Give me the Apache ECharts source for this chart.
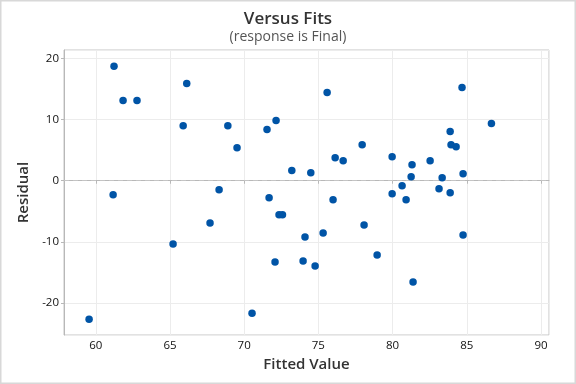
<!DOCTYPE html>
<html>
<head>
<meta charset="utf-8">
<script src="https://cdn.jsdelivr.net/npm/echarts@6/dist/echarts.min.js"></script>
<style>
html,body{margin:0;padding:0;background:#fff;}
#chart{width:576px;height:384px;}
</style>
</head>
<body>
<div id="chart"></div>
<script>
var fittedValues = [59.55, 61.17, 61.23, 61.84, 62.78, 65.21, 65.89, 66.13, 67.70, 68.31,
  68.90, 69.52, 70.53, 71.54, 71.68, 72.08, 72.15, 72.35, 72.58, 73.21,
  73.97, 74.10, 74.49, 74.78, 75.32, 75.59, 75.99, 76.13, 76.67, 77.95,
  78.08, 78.96, 79.97, 79.97, 80.64, 80.91, 81.25, 81.31, 81.38, 82.53,
  83.13, 83.34, 83.88, 83.88, 83.94, 84.28, 84.68, 84.75, 84.75, 86.66];
var residuals = [-22.62, -2.30, 18.69, 13.11, 13.11, -10.33, 9.00, 15.90, -6.89, -1.48,
  9.00, 5.41, -21.64, 8.36, -2.79, -13.28, 9.84, -5.57, -5.57, 1.69,
  -13.11, -9.18, 1.31, -13.93, -8.52, 14.43, -3.11, 3.77, 3.28, 5.90,
  -7.21, -12.13, 3.93, -2.13, -0.82, -3.11, 0.66, 2.62, -16.56, 3.28,
  -1.31, 0.49, 8.03, -1.97, 5.90, 5.57, 15.25, 1.15, -8.85, 9.34];
var xTicks = [60, 65, 70, 75, 80, 85, 90];
var yTicks = [-20, -10, 0, 10, 20];
var titleText = 'Versus Fits';
var subtitleText = '(response is Final)';
var xName = 'Fitted Value';
var yName = 'Residual';

var points = fittedValues.map(function (x, i) { return [x, residuals[i]]; });
var FONT = 'Open Sans';
function tickFmt(list) {
  return function (v) {
    for (var i = 0; i < list.length; i++) {
      if (Math.abs(list[i] - v) < 1e-6) return String(list[i]);
    }
    return '';
  };
}

var chart = echarts.init(document.getElementById('chart'), null, {renderer: 'canvas'});
chart.setOption({
  animation: false,
  backgroundColor: '#ffffff',
  title: {
    text: titleText,
    subtext: subtitleText,
    left: 'center',
    top: 6,
    itemGap: 2,
    textStyle: {fontFamily: FONT, fontSize: 17, fontWeight: 600, color: '#333333'},
    subtextStyle: {fontFamily: FONT, fontSize: 14, fontWeight: 500, color: '#555555'}
  },
  graphic: [{
    type: 'rect',
    silent: true,
    shape: {x: 0.75, y: 0.75, width: 574.5, height: 382.5},
    style: {fill: 'none', stroke: '#d8d8d8', lineWidth: 1.5}
  }],
  grid: {
    left: 64, right: 27, top: 50, bottom: 49,
    show: true, borderColor: '#c4c4c4', borderWidth: 1, backgroundColor: 'transparent'
  },
  xAxis: {
    type: 'value',
    min: 57.86, max: 90.54, splitNumber: 6,
    name: xName,
    nameLocation: 'middle',
    nameGap: 21,
    nameTextStyle: {fontFamily: FONT, fontSize: 15, fontWeight: 600, color: '#333333'},
    axisLine: {show: true, lineStyle: {color: '#b8b8b8'}},
    axisTick: {show: true, length: 3, lineStyle: {color: '#b8b8b8'}},
    axisLabel: {fontFamily: FONT, fontSize: 11.5, color: '#111111', margin: 5,
      showMinLabel: false, showMaxLabel: false, formatter: tickFmt(xTicks)},
    splitLine: {show: true, lineStyle: {color: '#ececec', width: 1}}
  },
  yAxis: {
    type: 'value',
    min: -25.2, max: 21.36, splitNumber: 5,
    name: yName,
    nameLocation: 'middle',
    nameGap: 30,
    nameTextStyle: {fontFamily: FONT, fontSize: 15, fontWeight: 600, color: '#333333'},
    axisLine: {show: true, lineStyle: {color: '#b8b8b8'}},
    axisTick: {show: true, length: 3, lineStyle: {color: '#b8b8b8'}},
    axisLabel: {fontFamily: FONT, fontSize: 11.5, color: '#111111', margin: 5,
      showMinLabel: false, showMaxLabel: false, formatter: tickFmt(yTicks)},
    splitLine: {show: true, lineStyle: {color: '#ececec', width: 1}}
  },
  series: [{
    type: 'scatter',
    data: points,
    symbol: 'circle',
    symbolSize: 7.5,
    itemStyle: {color: '#0054a6', opacity: 1},
    z: 5,
    markLine: {
      silent: true,
      symbol: ['none', 'none'],
      label: {show: false},
      lineStyle: {type: [5, 4], color: '#c4c4c4', width: 1},
      data: [{yAxis: 0}],
      z: 3
    }
  }]
});
</script>
</body>
</html>
